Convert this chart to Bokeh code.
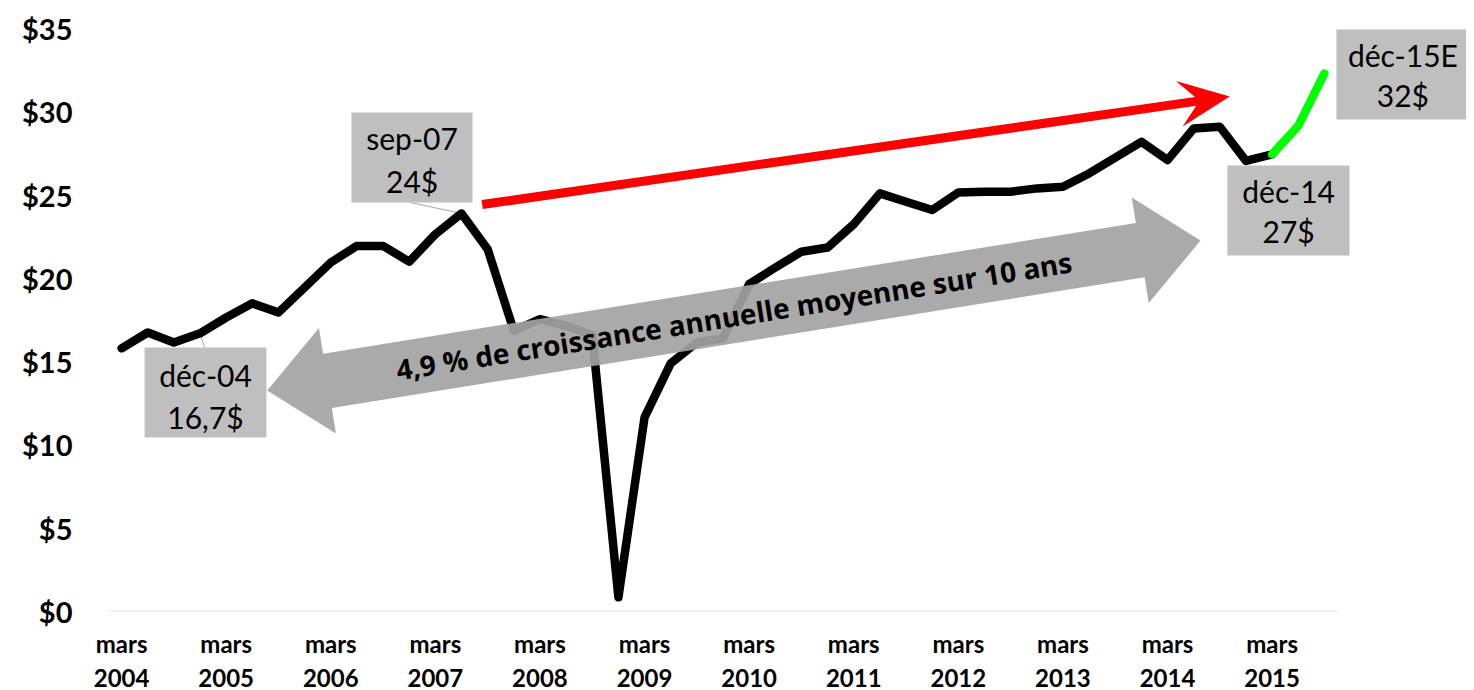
import math
from bokeh.plotting import figure
from bokeh.models import Range1d, FixedTicker
from bokeh.core.properties import value
from bokeh.embed import file_html
from bokeh.resources import INLINE

# ---------------- data ----------------
years = [2004, 2005, 2006, 2007, 2008, 2009, 2010, 2011, 2012, 2013, 2014, 2015]
y_ticks = [0, 5, 10, 15, 20, 25, 30, 35]
y_tick_labels = ["$0", "$5", "$10", "$15", "$20", "$25", "$30", "$35"]

# quarterly values (index 0 = mars 2004)
hist_values = [15.8, 16.75, 16.15, 16.7, 17.65, 18.5, 17.95, 19.45, 20.95, 21.95,
               21.95, 21.0, 22.65, 23.9, 21.75, 16.85, 17.55, 17.15, 16.6, 0.85,
               11.65, 14.9, 16.15, 16.4, 19.65, 20.65, 21.6, 21.85, 23.25, 25.1,
               24.6, 24.1, 25.15, 25.2, 25.2, 25.4, 25.5, 26.3, 27.25, 28.2,
               27.1, 29.0, 29.1, 27.05, 27.45]
est_values = [27.45, 29.15, 32.3]

hist_x = list(range(len(hist_values)))
est_x = list(range(len(hist_values) - 1, len(hist_values) - 1 + len(est_values)))

# call-out boxes: (left, right, bottom, top, line1, line2, text_x, y1, y2)
callouts = [
    (8.79, 13.42, 24.55, 29.96, "sep-07", "24$", 11.11, 28.40, 25.87),
    (0.88, 5.54, 10.45, 15.85, "déc-04", "16,7$", 3.21, 14.17, 11.65),
    (42.29, 46.96, 21.37, 26.78, "déc-14", "27$", 44.63, 25.27, 22.87),
    (46.46, 51.43, 29.54, 34.94, "déc-15E", "32$", 49.0, 33.38, 30.98),
]
leaders = [((11.05, 24.55), 13), ((3.17, 15.85), 3)]

growth_text = "4,9 % de croissance annuelle moyenne sur 10 ans"

# ---------------- figure ----------------
SX = 26.149
X_START = -0.5
FRAME_W, FRAME_H = 1358, 583
X_END = X_START + FRAME_W / SX
SY = FRAME_H / 35.0

p = figure(frame_width=FRAME_W, frame_height=FRAME_H,
           x_range=Range1d(X_START, X_END), y_range=Range1d(0, 35),
           output_backend="svg", toolbar_location=None,
           min_border_left=108, min_border_right=0,
           min_border_top=28, min_border_bottom=72)
p.xgrid.visible = False
p.ygrid.visible = False
p.outline_line_color = None
p.background_fill_color = "white"

# y axis
p.yaxis.ticker = FixedTicker(ticks=y_ticks)
p.yaxis.major_label_overrides = {t: l for t, l in zip(y_ticks, y_tick_labels)}
p.yaxis.axis_line_color = None
p.yaxis.major_tick_line_color = None
p.yaxis.minor_tick_line_color = None
p.yaxis.major_tick_out = 0
p.yaxis.major_tick_in = 0
p.yaxis.major_label_standoff = 36
p.yaxis.major_label_text_font = "Lato"
p.yaxis.major_label_text_font_style = "bold"
p.yaxis.major_label_text_font_size = "29px"
p.yaxis.major_label_text_color = "black"

# x axis
x_ticks = [i * 4 for i in range(len(years))]
p.xaxis.ticker = FixedTicker(ticks=x_ticks)
p.xaxis.major_label_overrides = {t: f"mars\n{y}" for t, y in zip(x_ticks, years)}
p.xaxis.axis_line_color = None
p.xaxis.major_tick_line_color = None
p.xaxis.minor_tick_line_color = None
p.xaxis.major_tick_out = 0
p.xaxis.major_tick_in = 0
p.xaxis.major_label_standoff = 17
p.xaxis.major_label_text_font = "Lato"
p.xaxis.major_label_text_font_style = "bold"
p.xaxis.major_label_text_font_size = "24px"
p.xaxis.major_label_text_color = "black"

# baseline at $0 (only across the category area)
p.segment(x0=[X_START], y0=[0], x1=[len(hist_values) - 1 + len(est_values) - 0.5], y1=[0],
          line_color="#D9D9D9", line_width=1.5)


def arrow_poly(x0, y0, x1, y1, shaft, head_w, head_len, notch=0.0, double=False):
    X0, Y0, X1, Y1 = x0 * SX, y0 * SY, x1 * SX, y1 * SY
    dx, dy = X1 - X0, Y1 - Y0
    L = math.hypot(dx, dy)
    ux, uy = dx / L, dy / L
    nx, ny = -uy, ux
    s, h = shaft / 2, head_w / 2
    if double:
        pts = [(head_len - notch, s), (L - head_len + notch, s), (L - head_len, h), (L, 0),
               (L - head_len, -h), (L - head_len + notch, -s), (head_len - notch, -s),
               (head_len, -h), (0, 0), (head_len, h)]
    else:
        pts = [(0, s), (L - head_len + notch, s), (L - head_len, h), (L, 0),
               (L - head_len, -h), (L - head_len + notch, -s), (0, -s)]
    xs = [(X0 + t * ux + n * nx) / SX for t, n in pts]
    ys = [(Y0 + t * uy + n * ny) / SY for t, n in pts]
    ang = math.atan2(dy, dx)
    return xs, ys, ang


# leader lines
for (lx, ly), idx in leaders:
    p.line([lx, idx], [ly, hist_values[idx]], line_color="#A6A6A6", line_width=1)

# main series
p.line(hist_x, hist_values, line_color="black", line_width=8.5,
       line_join="round", line_cap="round")
p.line(est_x, est_values, line_color="#00FF00", line_width=8.5,
       line_join="round", line_cap="round")

# grey double arrow with text
gx, gy, gang = arrow_poly(5.57, 13.27, 41.26, 22.27, 55, 107, 61, double=True)
p.patch(gx, gy, fill_color="#A3A3A3", fill_alpha=0.92, line_color=None)
p.text(x=[(5.57 + 41.26) / 2], y=[(13.27 + 22.27) / 2], text=[growth_text],
       angle=gang, text_align="center", text_baseline="middle",
       text_font=value("Open Sans"), text_font_style="bold",
       text_font_size="28px", text_color="black")

# red arrow
rx, ry, _ = arrow_poly(13.79, 24.43, 42.38, 30.92, 9, 46, 51, notch=16.5)
p.patch(rx, ry, fill_color="#FF0000", line_color=None)

# call-out boxes
for left, right, bottom, top, t1, t2, tx, y1, y2 in callouts:
    p.quad(left=[left], right=[right], bottom=[bottom], top=[top],
           fill_color="#BFBFBF", line_color=None)
    p.text(x=[tx, tx], y=[y1, y2], text=[t1, t2], text_align="center",
           text_baseline="middle", text_font=value("Lato"),
           text_font_size="30px", text_color="black")

open("out.html", "w").write(file_html(p, INLINE))
